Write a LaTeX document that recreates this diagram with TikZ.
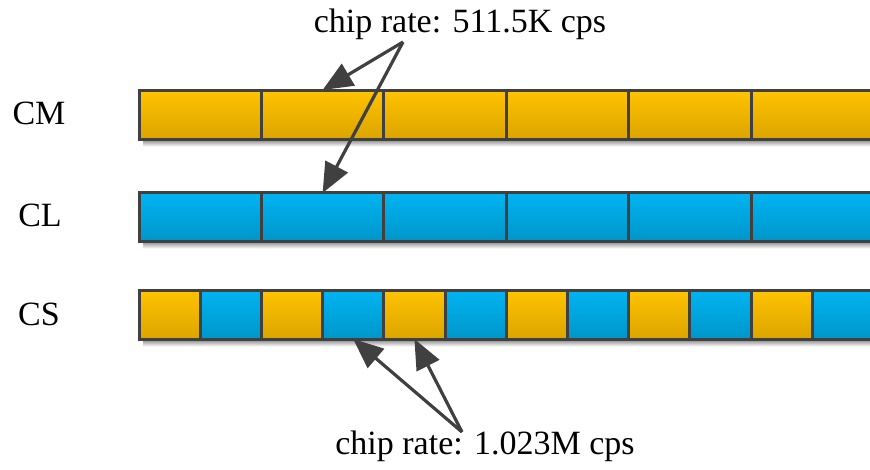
\documentclass[tikz,border=0pt]{standalone}
\usepackage{fontspec}
\setmainfont{Liberation Serif}
\usetikzlibrary{arrows.meta}
\definecolor{edge}{HTML}{404040}
\definecolor{goldtop}{HTML}{FFC300}
\definecolor{goldbot}{HTML}{DCA500}
\definecolor{skytop}{HTML}{00B4F2}
\definecolor{skybot}{HTML}{0096CA}
\definecolor{shade}{HTML}{E4E4E4}
\tikzset{
  cell/.style={draw=edge, line width=3pt, minimum height=49pt, inner sep=0pt, outer sep=0pt, anchor=west},
  gold/.style={cell, top color=goldtop, bottom color=goldbot},
  sky/.style={cell, top color=skytop, bottom color=skybot},
  lbl/.style={font=\fontsize{34}{40}\selectfont, inner sep=0pt},
  ptr/.style={draw=edge, line width=3.2pt, -{Triangle[length=30pt,width=25pt]}},
}
\begin{document}
\begin{tikzpicture}[x=1pt, y=-1pt]
  \useasboundingbox (0,0) rectangle (870,469);
  \clip (0,0) rectangle (870,469);
  % shadows under the three bars
  \foreach \yy in {114.5,216.5,314.5}
    \fill[shade] (143,\yy+24.5) rectangle (880,\yy+32);
  % CM row: long chips
  \foreach \i in {1,...,7}
    \node[gold, minimum width=122.4pt] (cm\i) at ({139+(\i-1)*122.4},114.5) {};
  % CL row: long chips
  \foreach \i in {1,...,7}
    \node[sky, minimum width=122.4pt] (cl\i) at ({139+(\i-1)*122.4},216.5) {};
  % CS row: interleaved half chips
  \foreach \i in {1,...,13}{
    \ifodd\i
      \node[gold, minimum width=61.2pt] (cs\i) at ({139+(\i-1)*61.2},314.5) {};
    \else
      \node[sky, minimum width=61.2pt] (cs\i) at ({139+(\i-1)*61.2},314.5) {};
    \fi
  }
  % row names
  \node[lbl] (ncm) at (39,113) {CM};
  \node[lbl] (ncl) at (40,215) {CL};
  \node[lbl] (ncs) at (39,314) {CS};
  % rate annotations
  \node[lbl] (rtop) at (460,24) {chip rate: 511.5K cps};
  \node[lbl] (rbot) at (485,446) {chip rate: 1.023M cps};
  \coordinate (srctop) at (403,42);
  \coordinate (srcbot) at (462,432);
  \draw[ptr] (srctop) -- (cm2.north);
  \draw[ptr] (srctop) -- ([yshift=-1pt]cl2.north);
  \draw[ptr] (srcbot) -- (cs4.south);
  \draw[ptr] (srcbot) -- (cs5.south);
\end{tikzpicture}
\end{document}
